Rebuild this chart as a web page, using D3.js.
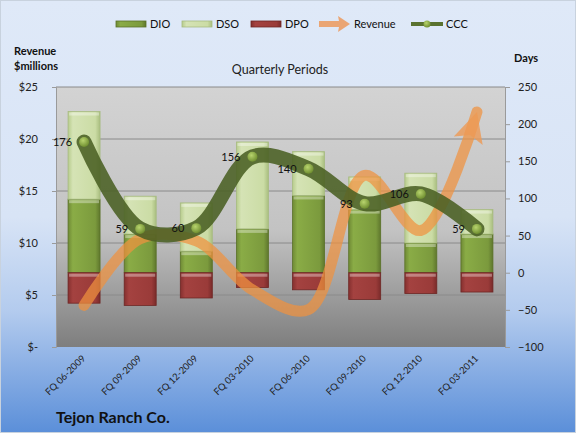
<!DOCTYPE html>
<html>
<head>
<meta charset="utf-8">
<script src="https://cdn.jsdelivr.net/npm/d3@7"></script>
<style>
  body { margin: 0; }
  svg { display: block; font-family: Lato, "Open Sans", sans-serif; }
</style>
</head>
<body>
<script>
// Data
const quarters = ['FQ 06-2009', 'FQ 09-2009', 'FQ 12-2009', 'FQ 03-2010', 'FQ 06-2010', 'FQ 09-2010', 'FQ 12-2010', 'FQ 03-2011'];
const dio = [99, 52, 29, 59, 104, 85, 40, 52];
const dso = [118, 51, 65, 117, 59, 44, 94, 33];
const dpo = [-41, -44, -34, -20, -23, -36, -28, -26];
const ccc = [176, 59, 60, 156, 140, 93, 106, 59];
const revenue = [4.0, 10.4, 10.2, 5.5, 3.6, 16.5, 11.2, 22.6];
const revTicks = [0, 5, 10, 15, 20, 25];
const dayTicks = [-100, -50, 0, 50, 100, 150, 200, 250];

const width = 576, height = 433;
const plot = { left: 56, right: 505, top: 87, bottom: 347 };

const svg = d3.select('body').append('svg').attr('width', width).attr('height', height);
const defs = svg.append('defs');

function grad(id, stops, vertical = true) {
    const g = defs.append('linearGradient').attr('id', id)
        .attr('x1', 0).attr('y1', 0).attr('x2', vertical ? 0 : 1).attr('y2', vertical ? 1 : 0);
    stops.forEach(s => g.append('stop').attr('offset', s[0]).attr('stop-color', s[1]));
}
grad('bg', [[0, '#dfe9f8'], [0.5, '#d8e4f6'], [0.72, '#b3cbee'], [1, '#5b8fd9']]);
grad('plotbg', [[0, '#d3d3d3'], [0.55, '#c3c3c3'], [1, '#7e7e7e']]);
grad('dio', [[0, '#6f8a35'], [0.15, '#8aac46'], [0.85, '#7b9a3d'], [1, '#5f772d']], false);
grad('dso', [[0, '#b7cc8c'], [0.15, '#d5e3b5'], [0.85, '#cbdca5'], [1, '#a9be7f']], false);
grad('dpo', [[0, '#85302f'], [0.15, '#a44240'], [0.85, '#9a3b39'], [1, '#7a2b2a']], false);
const dot = defs.append('radialGradient').attr('id', 'dot').attr('cx', 0.4).attr('cy', 0.35).attr('r', 0.7);
dot.append('stop').attr('offset', 0).attr('stop-color', '#b8d46e');
dot.append('stop').attr('offset', 1).attr('stop-color', '#6b8a2c');

// Background
svg.append('rect').attr('x', 0.5).attr('y', 0.5).attr('width', width - 1).attr('height', height - 1)
    .attr('fill', 'url(#bg)').attr('stroke', '#c8d2de');

// Scales
const x = d3.scaleBand().domain(quarters).range([plot.left, plot.right]).paddingInner(0.43).paddingOuter(0.215);
const yRev = d3.scaleLinear().domain([0, 25]).range([plot.bottom, plot.top]);
const yDays = d3.scaleLinear().domain([-100, 250]).range([plot.bottom, plot.top]);
const cx = d => x(d) + x.bandwidth() / 2;

// Plot area
svg.append('rect').attr('x', plot.left).attr('y', plot.top)
    .attr('width', plot.right - plot.left).attr('height', plot.bottom - plot.top)
    .attr('fill', 'url(#plotbg)');

// Gridlines
svg.append('g').selectAll('line').data(revTicks.slice(1)).enter().append('line')
    .attr('x1', plot.left).attr('x2', plot.right)
    .attr('y1', d => yRev(d)).attr('y2', d => yRev(d))
    .attr('stroke', '#8a8a8a').attr('stroke-width', 1);

// Left axis
const leftAxis = svg.append('g').attr('transform', `translate(${plot.left}, 0)`)
    .call(d3.axisLeft(yRev).tickValues(revTicks).tickSize(4).tickPadding(14)
        .tickFormat(d => d === 0 ? '$-' : '$' + d));
leftAxis.select('.domain').attr('stroke', '#9a9a9a');
leftAxis.selectAll('.tick line').attr('stroke', '#9a9a9a');
leftAxis.selectAll('text').attr('font-size', 11).attr('fill', '#222').attr('font-family', 'Lato, sans-serif');

// Right axis
const rightAxis = svg.append('g').attr('transform', `translate(${plot.right}, 0)`)
    .call(d3.axisRight(yDays).tickValues(dayTicks).tickSize(5).tickPadding(8));
rightAxis.select('.domain').attr('stroke', '#9a9a9a');
rightAxis.selectAll('.tick line').attr('stroke', '#9a9a9a');
rightAxis.selectAll('text').attr('font-size', 11).attr('fill', '#222').attr('font-family', 'Lato, sans-serif');

// X labels
svg.append('g').selectAll('text').data(quarters).enter().append('text')
    .attr('transform', d => `translate(${cx(d) + 2}, ${plot.bottom + 12}) rotate(-45)`)
    .attr('text-anchor', 'end')
    .attr('font-size', 9.5)
    .attr('fill', '#222')
    .text(d => d);

// Stacked bars
const rows = quarters.map((q, i) => ({ q, DIO: dio[i], DSO: dso[i], DPO: dpo[i] }));
const series = d3.stack().keys(['DIO', 'DSO', 'DPO']).offset(d3.stackOffsetDiverging)(rows);
const fills = { DIO: 'url(#dio)', DSO: 'url(#dso)', DPO: 'url(#dpo)' };
const strokes = { DIO: '#5a7228', DSO: '#a7bb80', DPO: '#6e2624' };

series.forEach(s => {
    svg.append('g').selectAll('rect').data(s).enter().append('rect')
        .attr('x', d => x(d.data.q))
        .attr('width', x.bandwidth())
        .attr('y', d => yDays(d[1]))
        .attr('height', d => yDays(d[0]) - yDays(d[1]))
        .attr('fill', fills[s.key])
        .attr('stroke', strokes[s.key])
        .attr('stroke-width', 0.8);
    // light top bevel
    svg.append('g').selectAll('rect').data(s).enter().append('rect')
        .attr('x', d => x(d.data.q) + 1)
        .attr('width', x.bandwidth() - 2)
        .attr('y', d => yDays(d[1]) + 1)
        .attr('height', 3)
        .attr('fill', '#ffffff').attr('opacity', 0.35);
});

// Revenue line with arrow
defs.append('marker').attr('id', 'arrow')
    .attr('markerUnits', 'userSpaceOnUse')
    .attr('viewBox', '0 0 30 30').attr('refX', 30).attr('refY', 15)
    .attr('markerWidth', 30).attr('markerHeight', 30).attr('orient', 'auto')
    .append('path').attr('d', 'M0,0 L30,15 L0,30 L6,15 Z')
    .attr('fill', '#ee9a55').attr('opacity', 0.8);

const revLine = d3.line().x((d, i) => cx(quarters[i])).y(d => yRev(d)).curve(d3.curveCatmullRom.alpha(0.5));
svg.append('path').datum(revenue)
    .attr('d', revLine)
    .attr('fill', 'none')
    .attr('stroke', '#f0913f')
    .attr('stroke-opacity', 0.72)
    .attr('stroke-width', 11)
    .attr('stroke-linecap', 'round')
    .attr('marker-end', 'url(#arrow)');

// CCC line
const cccLine = d3.line().x((d, i) => cx(quarters[i])).y(d => yDays(d)).curve(d3.curveCatmullRom.alpha(0.5));
svg.append('path').datum(ccc)
    .attr('d', cccLine)
    .attr('fill', 'none')
    .attr('stroke', '#4a6023')
    .attr('stroke-opacity', 0.88)
    .attr('stroke-width', 15)
    .attr('stroke-linecap', 'round');

svg.append('g').selectAll('circle').data(ccc).enter().append('circle')
    .attr('cx', (d, i) => cx(quarters[i]))
    .attr('cy', d => yDays(d))
    .attr('r', 5)
    .attr('fill', 'url(#dot)');

svg.append('g').selectAll('text').data(ccc).enter().append('text')
    .attr('x', (d, i) => cx(quarters[i]) - 12)
    .attr('y', d => yDays(d) + 4)
    .attr('text-anchor', 'end')
    .attr('font-size', 11)
    .attr('fill', '#111')
    .text(d => d);

// Titles
svg.append('text').attr('x', 280).attr('y', 74).attr('text-anchor', 'middle')
    .attr('font-size', 12.5).attr('fill', '#222').text('Quarterly Periods');
svg.append('text').attr('x', 14).attr('y', 55).attr('font-size', 11).attr('font-weight', 'bold')
    .attr('fill', '#111').text('Revenue');
svg.append('text').attr('x', 14).attr('y', 70).attr('font-size', 11).attr('font-weight', 'bold')
    .attr('fill', '#111').text('$millions');
svg.append('text').attr('x', 514).attr('y', 62).attr('font-size', 11).attr('font-weight', 'bold')
    .attr('fill', '#111').text('Days');
svg.append('text').attr('x', 56).attr('y', 423).attr('font-size', 16).attr('font-weight', 'bold')
    .attr('fill', '#111').text('Tejon Ranch Co.');

// Legend
const legend = svg.append('g').attr('transform', 'translate(0, 24)');
const legendItems = [
    { name: 'DIO', type: 'bar', fill: 'url(#dio)', stroke: '#5a7228', x: 116 },
    { name: 'DSO', type: 'bar', fill: 'url(#dso)', stroke: '#a7bb80', x: 182 },
    { name: 'DPO', type: 'bar', fill: 'url(#dpo)', stroke: '#6e2624', x: 251 },
    { name: 'Revenue', type: 'arrow', x: 319 },
    { name: 'CCC', type: 'line', x: 411 }
];
legendItems.forEach(it => {
    const g = legend.append('g').attr('transform', `translate(${it.x}, 0)`);
    if (it.type === 'bar') {
        g.append('rect').attr('x', 0).attr('y', -3).attr('width', 30).attr('height', 6)
            .attr('fill', it.fill).attr('stroke', it.stroke).attr('stroke-width', 0.8);
    } else if (it.type === 'arrow') {
        g.append('path').attr('d', 'M0,-3 L20,-3 L19,-8 L31,0 L19,8 L20,3 L0,3 Z')
            .attr('fill', '#eaa574');
    } else {
        g.append('line').attr('x1', 0).attr('x2', 32).attr('y1', 0).attr('y2', 0)
            .attr('stroke', '#5a7230').attr('stroke-width', 4);
        g.append('circle').attr('cx', 16).attr('cy', 0).attr('r', 3.5).attr('fill', 'url(#dot)');
    }
    g.append('text').attr('x', it.type === 'bar' ? 34 : 35).attr('y', 4)
        .attr('font-size', 11).attr('fill', '#111').text(it.name);
});
</script>
</body>
</html>
